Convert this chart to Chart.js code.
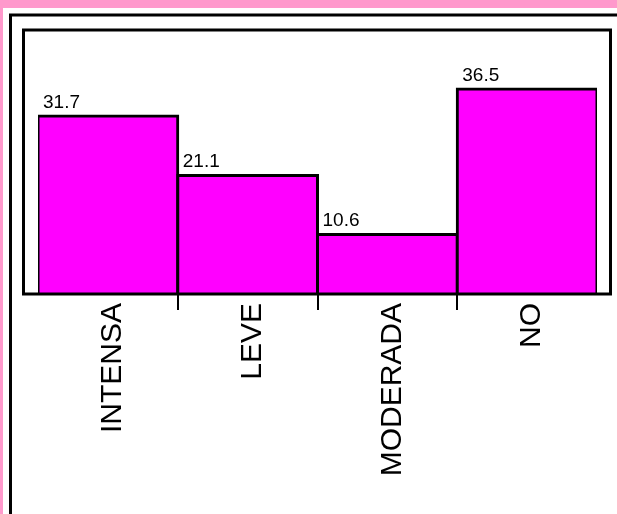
<!DOCTYPE html>
<html>
<head>
<meta charset="utf-8">
<title>Intensidad</title>
<script src="https://cdn.jsdelivr.net/npm/chart.js@4/dist/chart.umd.min.js"></script>
<style>
  html, body { margin: 0; padding: 0; background: #ffffff; }
  #wrap { width: 617px; height: 514px; position: relative; }
</style>
</head>
<body>
<div id="wrap"><canvas id="grafico"></canvas></div>
<script>
// categorias y porcentajes
const categorias = ['INTENSA', 'LEVE', 'MODERADA', 'NO'];
const porcentajes = [31.7, 21.1, 10.6, 36.5];

const FUENTE = "'Liberation Sans', Arial, sans-serif";

// marco rosa, recuadro exterior y recuadro del area de trazado
const marcos = {
    id: 'marcos',
    beforeDraw(chart) {
        const ctx = chart.ctx;
        ctx.save();
        ctx.fillStyle = '#ffffff';
        ctx.fillRect(0, 0, chart.width, chart.height);
        ctx.fillStyle = '#ff99cc';
        ctx.fillRect(0, 0, chart.width, 8);
        ctx.fillRect(0, 0, 3, chart.height);
        ctx.strokeStyle = '#000000';
        ctx.lineWidth = 3;
        ctx.beginPath();
        ctx.moveTo(chart.width, 15);
        ctx.lineTo(10.5, 15);
        ctx.lineTo(10.5, chart.height);
        ctx.stroke();
        ctx.restore();
    },
    afterDatasetsDraw(chart) {
        const a = chart.chartArea;
        const ctx = chart.ctx;
        ctx.save();
        ctx.strokeStyle = '#000000';
        ctx.lineWidth = 3;
        ctx.strokeRect(a.left - 14.5, a.top, (a.right + 13.5) - (a.left - 14.5), a.bottom - a.top);
        ctx.restore();
    }
};

// valor encima de cada barra, alineado a la izquierda
const valores = {
    id: 'valores',
    afterDatasetsDraw(chart) {
        const ctx = chart.ctx;
        const meta = chart.getDatasetMeta(0);
        ctx.save();
        ctx.fillStyle = '#000000';
        ctx.font = '19px ' + FUENTE;
        ctx.textAlign = 'left';
        ctx.textBaseline = 'alphabetic';
        meta.data.forEach((bar, i) => {
            ctx.fillText(porcentajes[i].toFixed(1), bar.x - bar.width / 2 + 5, bar.y - 8);
        });
        ctx.restore();
    }
};

new Chart(document.getElementById('grafico'), {
    type: 'bar',
    data: {
        labels: categorias,
        datasets: [{
            data: porcentajes,
            backgroundColor: '#ff00ff',
            borderColor: '#000000',
            borderWidth: 3,
            inflateAmount: 1.5,
            categoryPercentage: 1,
            barPercentage: 1
        }]
    },
    options: {
        responsive: true,
        maintainAspectRatio: false,
        animation: false,
        layout: { padding: { top: 30, left: 38, right: 20, bottom: 0 } },
        plugins: {
            legend: { display: false },
            tooltip: { enabled: false }
        },
        scales: {
            y: { display: false, min: 0, max: 47 },
            x: {
                offset: true,
                border: { display: false },
                // alto fijo del eje para que quepan las etiquetas giradas
                afterFit: (scale) => { scale.height = 220; },
                grid: {
                    offset: true,
                    drawOnChartArea: false,
                    drawTicks: true,
                    tickLength: 16,
                    lineWidth: 2,
                    color: (c) => (c.type !== 'tick' || c.index === 0) ? 'rgba(0,0,0,0)' : '#000000'
                },
                ticks: {
                    color: '#000000',
                    font: { family: FUENTE, size: 30 },
                    minRotation: 90,
                    maxRotation: 90,
                    padding: -7,
                    labelOffset: 5,
                    autoSkip: false
                }
            }
        }
    },
    plugins: [marcos, valores]
});
</script>
</body>
</html>
